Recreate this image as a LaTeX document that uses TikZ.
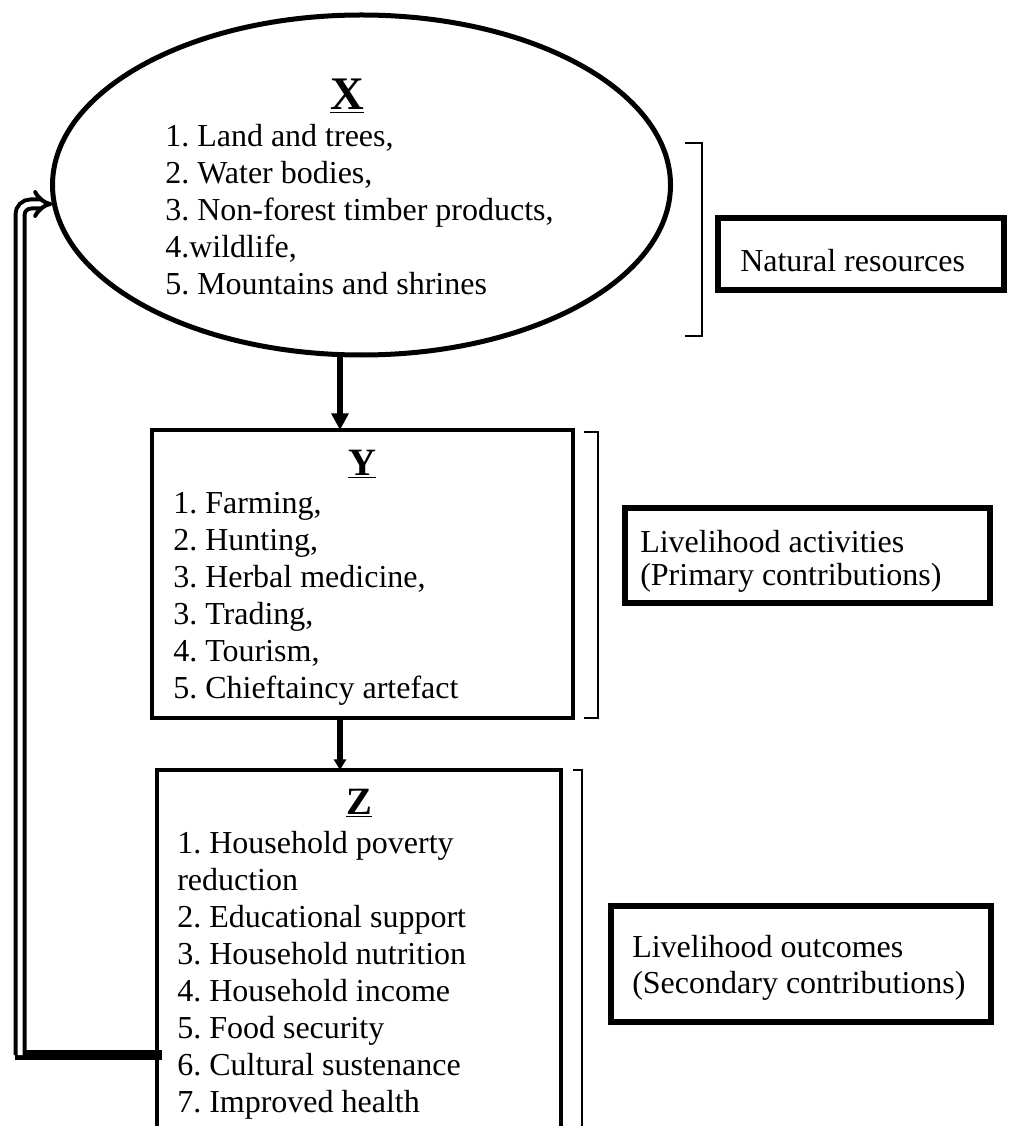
\documentclass[tikz,border=0pt]{standalone}
\usepackage{fontspec}
\setmainfont{Liberation Serif}
\usetikzlibrary{shapes.geometric,arrows.meta}
\frenchspacing
\begin{document}
\begin{tikzpicture}[x=0.75pt,y=-0.75pt,
  every node/.style={font=\fontsize{24}{28}\selectfont},
  shapebox/.style={draw, line width=3.2pt, inner sep=0pt, outer sep=0pt, rectangle},
  sidebox/.style={draw, line width=4.5pt, inner sep=0pt, outer sep=0pt, rectangle},
  txt/.style={anchor=base west, inner sep=0pt},
  ttl/.style={anchor=base, inner sep=0pt, font=\fontsize{29}{30}\selectfont\bfseries},
  brk/.style={line width=1.1pt},
  arrbig/.style={line width=4.5pt, -{Triangle[length=12.5pt,width=12.5pt]}},
  arrsmall/.style={line width=4.5pt, -{Triangle[length=8pt,width=9pt]}}
]
\useasboundingbox (0,0) rectangle (1010,1126);

% main shapes
\node[ellipse, draw, line width=3.75pt, minimum width=618*0.75pt, minimum height=340*0.75pt, inner sep=0pt, outer sep=0pt] (X) at (361.5,185) {};
\node[shapebox, minimum width=421*0.75pt, minimum height=288*0.75pt] (Y) at (362.5,574) {};
\node[shapebox, minimum width=404*0.75pt, minimum height=358*0.75pt] (Z) at (359,949) {};

% side boxes
\node[sidebox, minimum width=286*0.75pt, minimum height=72*0.75pt] (NR) at (861,254) {};
\node[sidebox, minimum width=365*0.75pt, minimum height=95*0.75pt] (LA) at (807.5,555.5) {};
\node[sidebox, minimum width=380*0.75pt, minimum height=116*0.75pt] (LO) at (801,964) {};

\node[txt] (NRt) at (740,272) {Natural resources};
\node[txt] (LAt1) at (640,552) {Livelihood activities};
\node[txt] (LAt2) at (640,585) {(Primary contributions)};
\node[txt] (LOt1) at (632,957) {Livelihood outcomes};
\node[txt] (LOt2) at (632,993) {(Secondary contributions)};

% titles
\node[ttl, font=\fontsize{35}{36}\selectfont\bfseries] (Xt) at (347,110) {\underline{X}};
\node[ttl] (Yt) at (362,475) {\underline{Y}};
\node[ttl] (Zt) at (359,814) {\underline{Z}};

% lists
\foreach \t [count=\i] in {{1. Land and trees,},{2. Water bodies,},{3. Non-forest timber products,},{4.wildlife,},{5. Mountains and shrines}}
  \node[txt] (xl\i) at (165,{147+37*(\i-1)}) {\t};
\foreach \t [count=\i] in {{1. Farming,},{2. Hunting,},{3. Herbal medicine,},{3. Trading,},{4. Tourism,},{5. Chieftaincy artefact}}
  \node[txt] (yl\i) at (173,{513+37*(\i-1)}) {\t};
\foreach \t [count=\i] in {{1. Household poverty},{reduction},{2. Educational support},{3. Household nutrition},{4. Household income},{5. Food security},{6. Cultural sustenance},{7. Improved health}}
  \node[txt] (zl\i) at (177,{853+37*(\i-1)}) {\t};

% brackets
\draw[brk] (685,143) -- (702,143) -- (702,336) -- (685,336);
\draw[brk] (584,432) -- (598,432) -- (598,718) -- (584,718);
\draw[brk] (573,770) -- (582,770) -- (582,1140);

% arrows
\coordinate (a1) at (340,0);
\draw[arrbig] (X.south -| a1) -- (Y.north -| a1);
\draw[arrsmall] (Y.south -| a1) -- (Z.north -| a1);

% feedback
\coordinate (fb1) at (20,1055);
\coordinate (fb2) at (20,204);
\draw[line width=7.5pt, line cap=rect] (Z.west |- fb1) -- (fb1);
\draw[double, line width=3pt, double distance=3.75pt, rounded corners=8pt, -{Implies}] (fb1) -- (fb2) -- (X.west |- fb2);
\end{tikzpicture}
\end{document}
